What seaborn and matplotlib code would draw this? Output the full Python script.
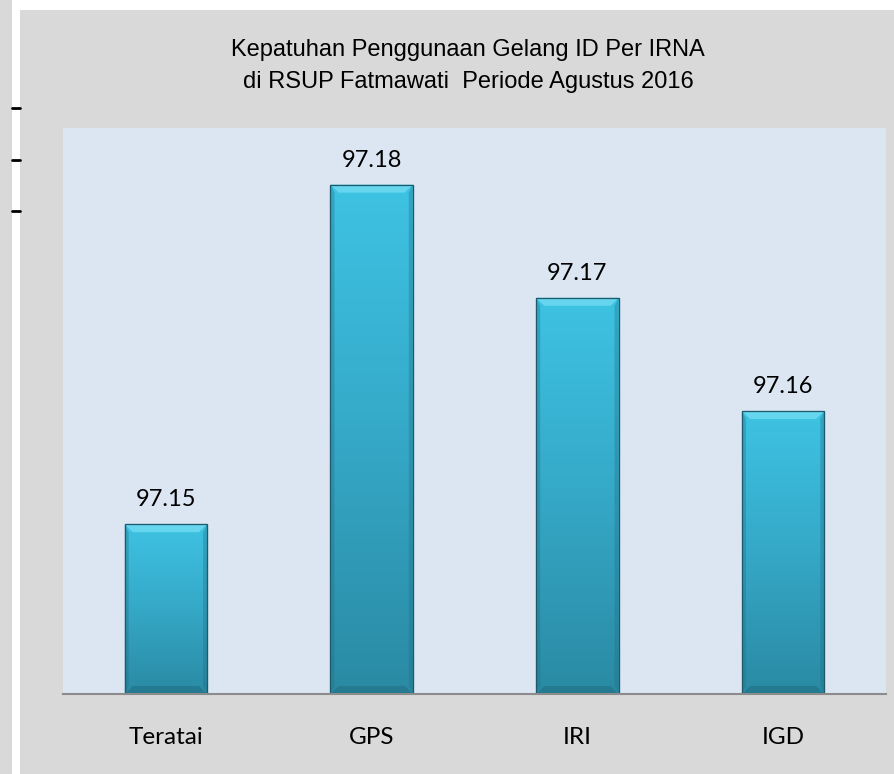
import numpy as np
import pandas as pd
import seaborn as sns
import matplotlib.pyplot as plt
from matplotlib.patches import Rectangle, Polygon
from matplotlib.lines import Line2D

units = ['Teratai', 'GPS', 'IRI', 'IGD']
compliance = [97.15, 97.18, 97.17, 97.16]
title_lines = ['Kepatuhan Penggunaan Gelang ID Per IRNA',
               'di RSUP Fatmawati  Periode Agustus 2016']

W, H = 895, 774


def fx(px):
    return px / W


def fy(py):
    return 1 - py / H


sns.set_theme(style='white')
plt.rcParams['font.family'] = ['Liberation Sans', 'DejaVu Sans']
plt.rcParams['text.color'] = 'black'
plt.rcParams['xtick.color'] = 'black'

fig = plt.figure(figsize=(W / 100, H / 100), dpi=100)
fig.patch.set_facecolor('white')

# outer frame pieces
fig.patches.append(Rectangle((0, 0), fx(12), 1, transform=fig.transFigure,
                             facecolor='#d9d9d9', edgecolor='none', zorder=-5))
fig.patches.append(Rectangle((fx(20), 0), 1 - fx(20), fy(10), transform=fig.transFigure,
                             facecolor='#d9d9d9', edgecolor='none', zorder=-5))
for yy in [108, 160, 211]:
    fig.lines.append(Line2D([fx(12), fx(20)], [fy(yy), fy(yy)], transform=fig.transFigure,
                            color='black', lw=2))

ax = fig.add_axes([fx(63), fy(694), fx(886) - fx(63), fy(128) - fy(694)])
ax.set_zorder(5)
ax.set_facecolor('#dce6f2')

df = pd.DataFrame({'unit': units, 'value': compliance})
sns.barplot(data=df, x='unit', y='value', color='#38b2d4', width=0.40,
            edgecolor='#1d5a6b', linewidth=0.8, ax=ax)

ax.set_ylim(97.135, 97.185)
ax.set_xlim(-0.5, len(units) - 0.5)

# gradient fill + bevel on each bar
ymin, ymax = ax.get_ylim()
grad = np.linspace(0, 1, 256).reshape(-1, 1)
cmap = sns.blend_palette(['#2a8aa3', '#35a8c7', '#3ec3e3'], as_cmap=True)
bev_y = (ymax - ymin) * 8 / 566
bev_x = 8 / 205.75
for p in list(ax.patches):
    x0, y0 = p.get_x(), p.get_y()
    w, h = p.get_width(), p.get_height()
    top = y0 + h
    z = p.get_zorder()
    im = ax.imshow(grad, extent=[x0, x0 + w, ymin, top], origin='lower',
                   aspect='auto', cmap=cmap, zorder=z + 0.1)
    im.set_clip_path(p)
    # top bevel (light)
    ax.add_patch(Polygon([(x0, top), (x0 + w, top), (x0 + w - bev_x, top - bev_y),
                          (x0 + bev_x, top - bev_y)], closed=True,
                         facecolor='#66d6ee', edgecolor='none', zorder=z + 0.2))
    # side bevels (slightly darker)
    ax.add_patch(Polygon([(x0, top), (x0 + bev_x * 0.5, top - bev_y), (x0 + bev_x * 0.5, ymin + bev_y),
                          (x0, ymin)], closed=True, facecolor='#1f6f85', alpha=0.35,
                         edgecolor='none', zorder=z + 0.2))
    ax.add_patch(Polygon([(x0 + w, top), (x0 + w - bev_x * 0.5, top - bev_y),
                          (x0 + w - bev_x * 0.5, ymin + bev_y), (x0 + w, ymin)], closed=True,
                         facecolor='#1f6f85', alpha=0.35, edgecolor='none', zorder=z + 0.2))
    # bottom bevel (dark)
    ax.add_patch(Polygon([(x0, ymin), (x0 + w, ymin), (x0 + w - bev_x, ymin + bev_y),
                          (x0 + bev_x, ymin + bev_y)], closed=True,
                         facecolor='#1f7085', alpha=0.6, edgecolor='none', zorder=z + 0.2))
    ax.add_patch(Rectangle((x0, ymin), w, top - ymin, facecolor='none',
                           edgecolor='#1d5a6b', lw=0.9, zorder=z + 0.3))

for i, v in enumerate(compliance):
    ax.annotate(f'{v:.2f}', (i, v), xytext=(0, 13), textcoords='offset points',
                ha='center', va='baseline', fontsize=17, family=['Lato', 'DejaVu Sans'])

ax.set_xlabel('')
ax.set_ylabel('')
ax.set_yticks([])
ax.tick_params(axis='x', length=0, pad=24, labelsize=17.5)
for lab in ax.get_xticklabels():
    lab.set_family(['Lato', 'DejaVu Sans'])
for s in ['top', 'right', 'left']:
    ax.spines[s].set_visible(False)
ax.spines['bottom'].set_color('#8c8c8c')
ax.spines['bottom'].set_linewidth(1.5)

fig.text(fx(468), fy(56), title_lines[0], ha='center', va='baseline', fontsize=17)
fig.text(fx(468), fy(88), title_lines[1], ha='center', va='baseline', fontsize=17)

fig.savefig('out.png', dpi=100)
